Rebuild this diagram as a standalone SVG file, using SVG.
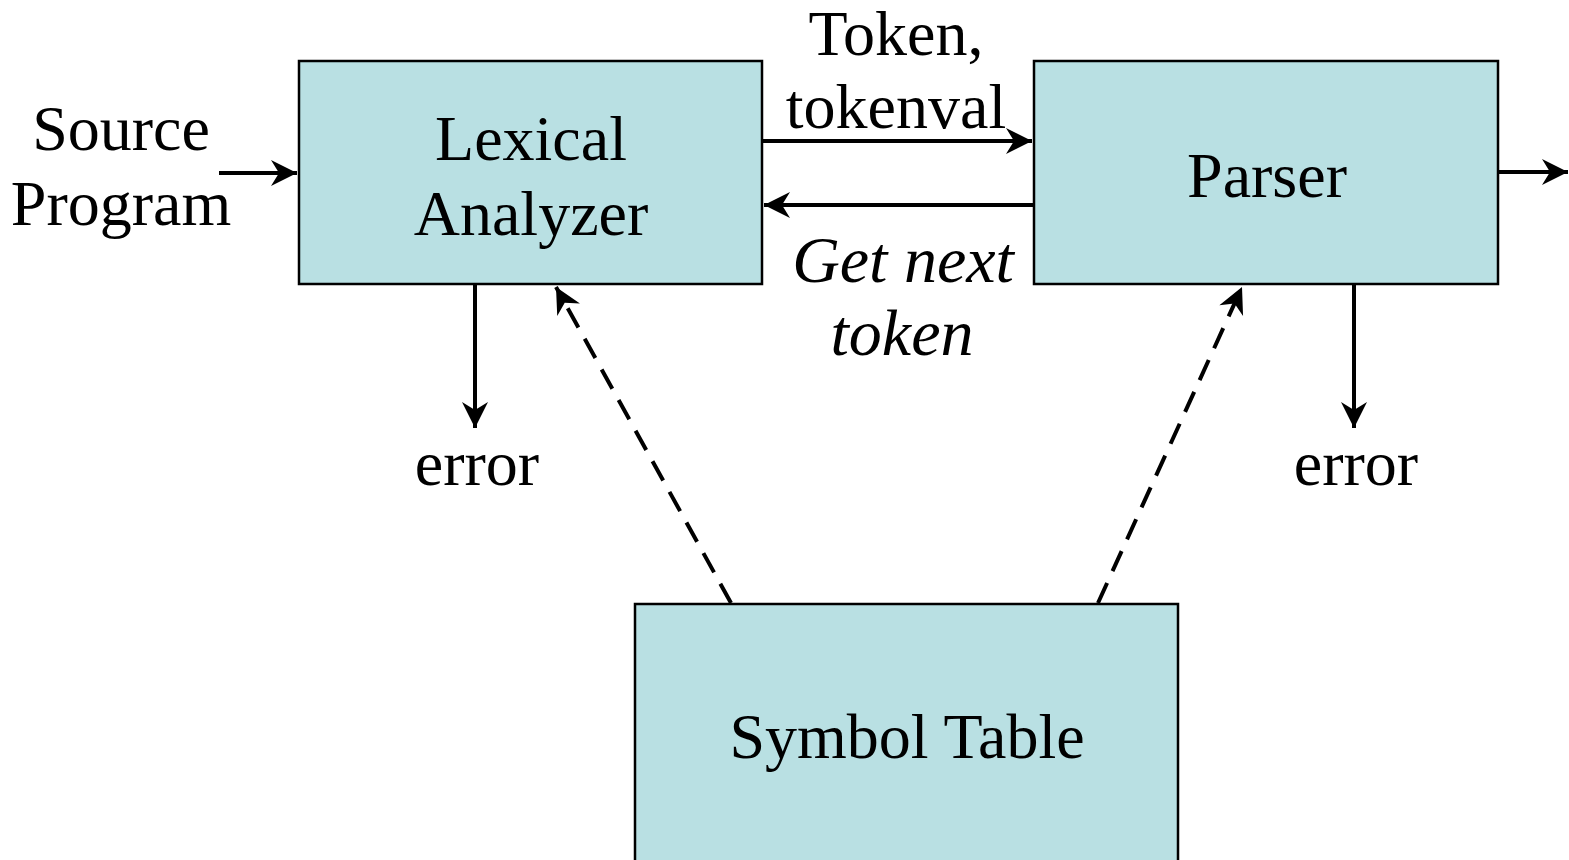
<svg xmlns="http://www.w3.org/2000/svg" width="1569" height="860" viewBox="0 0 1569 860">
<style>
.box{fill:#b9e0e3;stroke:#000;stroke-width:2.5}
.t{font-family:"Liberation Serif","Times New Roman",serif;font-size:64px;fill:#000;text-anchor:middle}
.it{font-style:italic;font-size:66px}
.ln{stroke:#000;stroke-width:4;fill:none}
.dash{stroke:#000;stroke-width:4;fill:none;stroke-dasharray:22 13}
</style>
<defs>
<marker id="ah" markerUnits="userSpaceOnUse" viewBox="-28 -14 30 28" refX="0" refY="0" markerWidth="30" markerHeight="28" orient="auto">
<path d="M0,0 L-26,-13 L-18,0 L-26,13 Z" fill="#000"/>
</marker>
</defs>
<rect width="1569" height="860" fill="#fff"/>
<g id="connectors">
<line class="ln" x1="219" y1="173" x2="297" y2="173" marker-end="url(#ah)"/>
<line class="ln" x1="763" y1="141" x2="1032" y2="141" marker-end="url(#ah)"/>
<line class="ln" x1="1034" y1="205" x2="764" y2="205" marker-end="url(#ah)"/>
<line class="ln" x1="1498" y1="172" x2="1568" y2="172" marker-end="url(#ah)"/>
<line class="ln" x1="475" y1="285" x2="475" y2="428" marker-end="url(#ah)"/>
<line class="ln" x1="1354" y1="285" x2="1354" y2="428" marker-end="url(#ah)"/>
<line class="dash" x1="731" y1="603" x2="556" y2="287" marker-end="url(#ah)"/>
<line class="dash" x1="1098" y1="603" x2="1242" y2="287" marker-end="url(#ah)"/>
</g>
<g id="lexical">
<rect class="box" x="299" y="61" width="463" height="223"/>
<text class="t" x="531" y="160">Lexical</text>
<text class="t" x="531" y="235">Analyzer</text>
</g>
<g id="parser">
<rect class="box" x="1034" y="61" width="464" height="223"/>
<text class="t" x="1267" y="197">Parser</text>
</g>
<g id="symtab">
<rect class="box" x="635" y="604" width="543" height="270"/>
<text class="t" x="907" y="758">Symbol Table</text>
</g>
<g id="labels">
<text class="t" x="121" y="150">Source</text>
<text class="t" x="121" y="225">Program</text>
<text class="t" x="896" y="55">Token,</text>
<text class="t" x="896" y="128">tokenval</text>
<text class="t it" x="903" y="282">Get next</text>
<text class="t it" x="902" y="355">token</text>
<text class="t" x="477" y="485">error</text>
<text class="t" x="1356" y="485">error</text>
</g>
</svg>
